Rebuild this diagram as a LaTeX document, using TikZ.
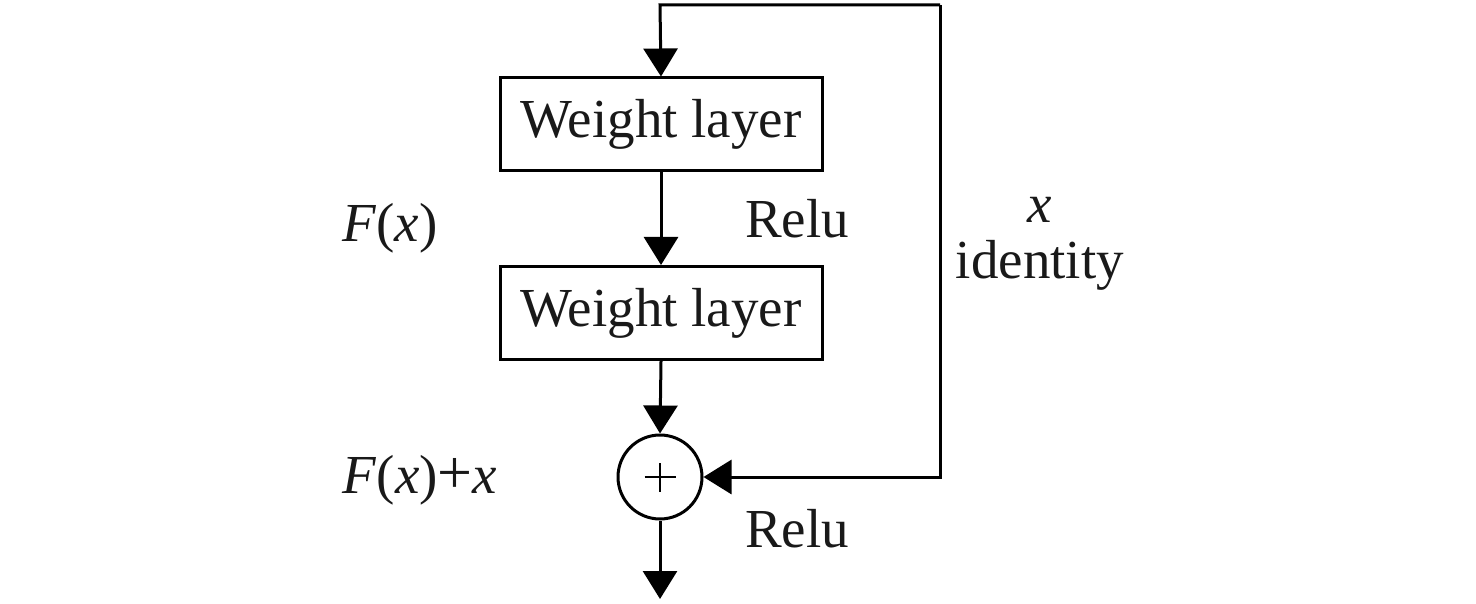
\documentclass[tikz,border=0pt]{standalone}
\usepackage{fontspec}
\setmainfont{Liberation Serif}
\usetikzlibrary{arrows.meta}
\begin{document}
\begin{tikzpicture}[x=0.5pt,y=-0.5pt,
  line width=1.5pt,
  every node/.style={font=\fontsize{27.5}{32}\selectfont, text=black!90},
  wbox/.style={draw, minimum width=161pt, minimum height=46.5pt, inner sep=0pt},
  sumnode/.style={draw, circle, minimum size=42pt, inner sep=0pt},
  plusline/.style={line width=0.8pt},
  arr/.style={-{Triangle[width=17pt,length=14pt]}},
  lbl/.style={inner sep=0pt}]
\useasboundingbox (0,0) rectangle (1476,604);
\node[wbox] (w1) at (661,124.5) {Weight layer};
\node[wbox] (w2) at (661,313) {Weight layer};
\node[sumnode] (s) at (660,477) {};
\draw[plusline] ([xshift=-7.75pt]s.center) -- ([xshift=7.75pt]s.center);
\draw[plusline] ([yshift=-7.25pt]s.center) -- ([yshift=7.25pt]s.center);
\coordinate (tl) at (660,5);
\coordinate (tr) at (940,5);
\coordinate (br) at (940,477);
\coordinate (out) at (660,599);
\draw[arr] (tr) -- (tl) -- (w1.north);
\draw[arr] (w1.south) -- (w2.north);
\draw[arr] (w2.south) -- (s.north);
\draw[arr] (tr) -- (br) -- (s.east);
\draw[arr] (s.south) -- (out);
\node[lbl] (relu1) at (797,219) {Relu};
\node[lbl] (relu2) at (797,529) {Relu};
\node[lbl] (fx) at (390,228) {\textit{F}(\textit{x})};
\node[lbl] (fxx) at (420,480) {\textit{F}(\textit{x}){\fontsize{31}{31}\selectfont +}\textit{x}};
\node[lbl] (xl) at (1040,210) {\textit{x}};
\node[lbl] (id) at (1040,265) {identity};
\end{tikzpicture}
\end{document}
